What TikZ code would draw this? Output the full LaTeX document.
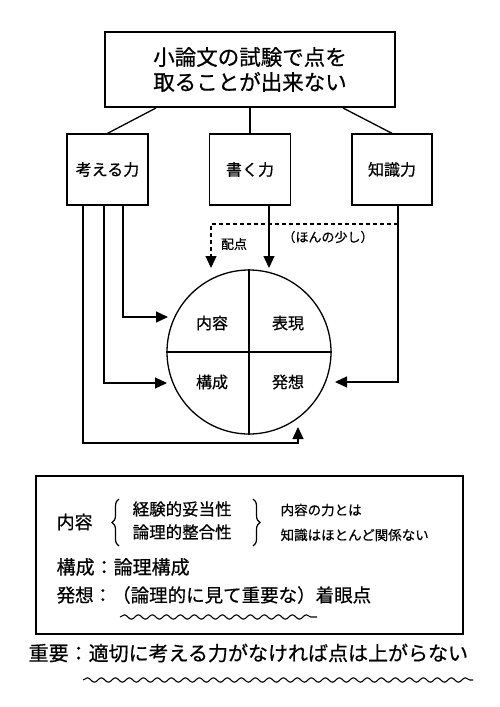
\documentclass[tikz,border=0pt]{standalone}
\usepackage{fontspec}
\setmainfont{Noto Sans CJK JP}[FakeBold=0.6]
\usetikzlibrary{arrows.meta,calc,decorations.pathreplacing,decorations.pathmorphing}
\newcommand{\fs}[1]{\fontsize{#1}{#1}\selectfont}
\begin{document}
\begin{tikzpicture}[x=1pt,y=-1pt, line width=1.3pt,
  bx/.style={draw, line width=1.3pt, minimum width=81pt, minimum height=71pt, inner sep=0pt, font=\fs{16}},
  arr/.style={-{Triangle[length=12pt,width=11pt]}},
  lbl/.style={inner sep=0pt, anchor=west},
  ctr/.style={inner sep=0pt},
  wave/.style={decorate, decoration={snake, segment length=14pt, amplitude=2.2pt}, line width=1.1pt},
  brc/.style={decorate, decoration={brace, amplitude=7pt}, line width=1.2pt}]
\useasboundingbox (0,0) rectangle (500,707);
% top box
\node[draw, line width=2pt, minimum width=290pt, minimum height=75pt, align=center, inner sep=0pt, font=\fontsize{21.5}{25}\selectfont] (top) at (250,69.5) {小論文の試験で点を\\取ることが出来ない};
% second level
\node[bx] (k) at (107.5,169.5) {考える力};
\node[bx] (s) at (250,169.5) {書く力};
\node[bx, minimum width=80pt] (c) at (392,169.5) {知識力};
\draw ($(top.south west)+(52,0)$) -- (k.north);
\draw (top.south) -- (s.north);
\draw ($(top.south east)+(-53,0)$) -- (c.north);
% circle
\node[draw, circle, minimum size=164pt, inner sep=0pt] (o) at (249,352) {};
\draw (o.north) -- (o.south);
\draw (o.west) -- (o.east);
\node[ctr, font=\fs{16}] (q1) at (212,323) {内容};
\node[ctr, font=\fs{16}] (q2) at (288,323) {表現};
\node[ctr, font=\fs{16}] (q3) at (212,382) {構成};
\node[ctr, font=\fs{16}] (q4) at (288,382) {発想};
% arrows
\coordinate (t1) at (168,317);
\coordinate (t2) at (167,383);
\coordinate (t3) at (298,427);
\coordinate (t4) at (269,268);
\coordinate (t5) at (335,382);
\coordinate (t6) at (211,268);
\coordinate (d0) at (398,224);
\draw[arr] ($(k.south)+(15.5,0)$) |- (t1);
\draw[arr] ($(k.south)+(-3.5,0)$) |- (t2);
\draw[arr] ($(k.south)+(-24.5,0)$) |- ($(t3)+(0,16)$) -- (t3);
\draw[arr] (s.south -| t4) -- (t4);
\draw[arr] ($(c.south)+(6,0)$) |- (t5);
\draw[arr, dash pattern=on 4pt off 3pt] (d0) -| (t6);
\node[ctr, font=\fs{13}] (hai) at (234,244) {配点};
\node[ctr, font=\fs{13}] (hon) at (328,237) {（ほんの少し）};
% bottom box
\node[draw, line width=1.8pt, minimum width=427pt, minimum height=158pt] (bb) at (249.5,555) {};
\node[lbl, font=\fs{18}] (a1) at (56,522) {内容};
\draw[brc] (119,546) -- (119,499);
\node[lbl, font=\fs{16.5}] (a2) at (132,509) {経験的妥当性};
\node[lbl, font=\fs{16.5}] (a3) at (132,532) {論理的整合性};
\draw[brc] (253,499) -- (253,546);
\node[lbl, font=\fs{13.5}] (a4) at (280,510) {内容の力とは};
\node[lbl, font=\fs{13.5}] (a5) at (280,535) {知識はほとんど関係ない};
\node[lbl, font=\fs{19}] (a6) at (56,567) {構成：論理構成};
\node[lbl, font=\fs{18.5}] (a7) at (56,595) {発想：（論理的に見て重要な）着眼点};
\coordinate (w1) at (120,617);
\coordinate (w2) at (317,617);
\draw[wave] (w1) -- (w2);
% bottom line
\node[lbl, font=\fs{20}] (b1) at (28,653) {重要：適切に考える力がなければ点は上がらない};
\coordinate (w3) at (83,680);
\coordinate (w4) at (473,680);
\draw[wave] (w3) -- (w4);
\end{tikzpicture}
\end{document}
